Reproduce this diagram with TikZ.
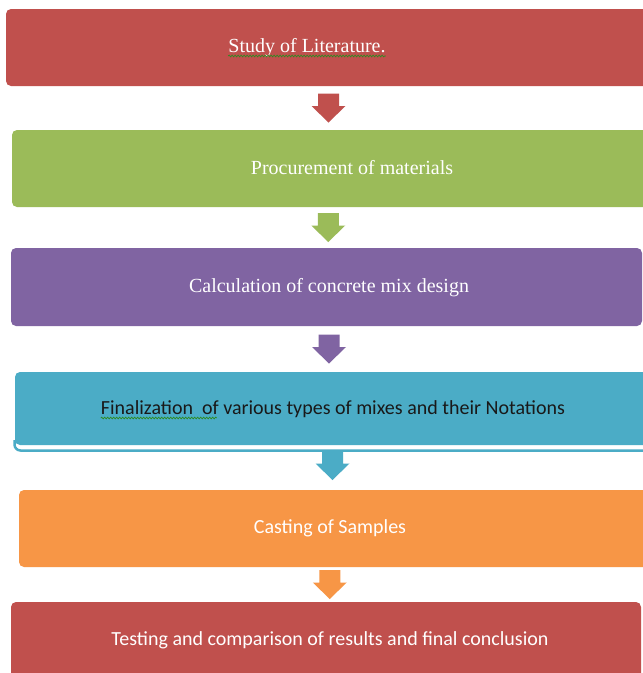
\documentclass[tikz,border=0pt]{standalone}
\usepackage{fontspec}
\setmainfont{Liberation Serif}
\newfontfamily\calibri{Carlito}
\usepackage{tikz}
\usetikzlibrary{positioning, calc, decorations.pathmorphing}
\definecolor{off-red}{HTML}{C0504D}
\definecolor{off-green}{HTML}{9BBB59}
\definecolor{off-purple}{HTML}{8064A2}
\definecolor{off-teal}{HTML}{4BACC6}
\definecolor{off-orange}{HTML}{F79646}
\definecolor{spell-green}{HTML}{2E8B22}

\begin{document}
\begin{tikzpicture}[x=1pt, y=-1pt,
		stepbox/.style={rounded corners=5pt, inner sep=0pt, minimum height=77pt},
		steptext/.style={anchor=base, inner sep=0pt, font=\fontsize{20}{24}\selectfont, text=white},
		squiggle/.style={draw=spell-green, line width=0.7pt, decorate, decoration={snake, amplitude=0.9pt, segment length=3pt}},
		downarrow/.pic={\fill[pic actions] (-10.5,-14.5) -- (10.5,-14.5) -- (10.5,-2) -- (17,-2) -- (0,14.5) -- (-17,-2) -- (-10.5,-2) -- cycle;}]
					\useasboundingbox[fill=white] (0,0) rectangle (643,673);
					
					% boxes
					\node[stepbox, fill=off-red, minimum width=642pt] at (327,47.5) (study) {};
					\node[stepbox, fill=off-green, minimum width=636pt] at (330,168.5) (procure) {};
					\node[stepbox, fill=off-purple, minimum width=631pt, minimum height=78pt] at (326.5,287) (calc) {};
					\draw[off-teal, line width=2.5pt, rounded corners=6pt] (14.5,440) |- (648,450.5);
					\node[stepbox, fill=off-teal, minimum width=633pt, minimum height=73pt] at (331.5,408.5) (mixes) {};
					\node[stepbox, fill=off-orange, minimum width=629pt] at (333.5,528.5) (cast) {};
					\node[stepbox, fill=off-red, minimum width=630pt, minimum height=78pt] at (326,641) (test) {};
					
					% texts
					\node[steptext] at (307,52) (t-study) {Study of Literature.};
					\node[steptext] at (352,174) (t-procure) {Procurement of materials};
					\node[steptext] at (329,292) (t-calc) {Calculation of concrete mix design};
					\node[steptext, text=black!90, font=\calibri\fontsize{20}{24}\selectfont] at (333,414) (t-mixes) {Finalization\ \ of various types of mixes and their Notations};
					\node[steptext, font=\calibri\fontsize{20}{24}\selectfont] at (330,533) (t-cast) {Casting of Samples};
					\node[steptext, font=\calibri\fontsize{20}{24}\selectfont] at (330,645) (t-test) {Testing and comparison of results and final conclusion};
					
					\draw[squiggle] ($(t-study.base west)+(0,4)$) -- ($(t-study.base east)+(0,4)$);
					\draw[squiggle] ($(t-mixes.base west)+(0,4)$) -- ++(116,0);
					
					% arrows
					\pic[fill=off-red] at ($(study.south)!.5!(procure.north)$) {downarrow};
					\pic[fill=off-green] at ($(procure.south)!.5!(calc.north)$) {downarrow};
					\pic[fill=off-purple] at ($(calc.south)!.5!(mixes.north)$) {downarrow};
					\pic[fill=off-teal] at ($(mixes.south)!.5!(cast.north)+(0,-2)$) {downarrow};
					\pic[fill=off-orange] at ($(cast.south)!.5!(test.north)$) {downarrow};
				\end{tikzpicture}
\end{document}
